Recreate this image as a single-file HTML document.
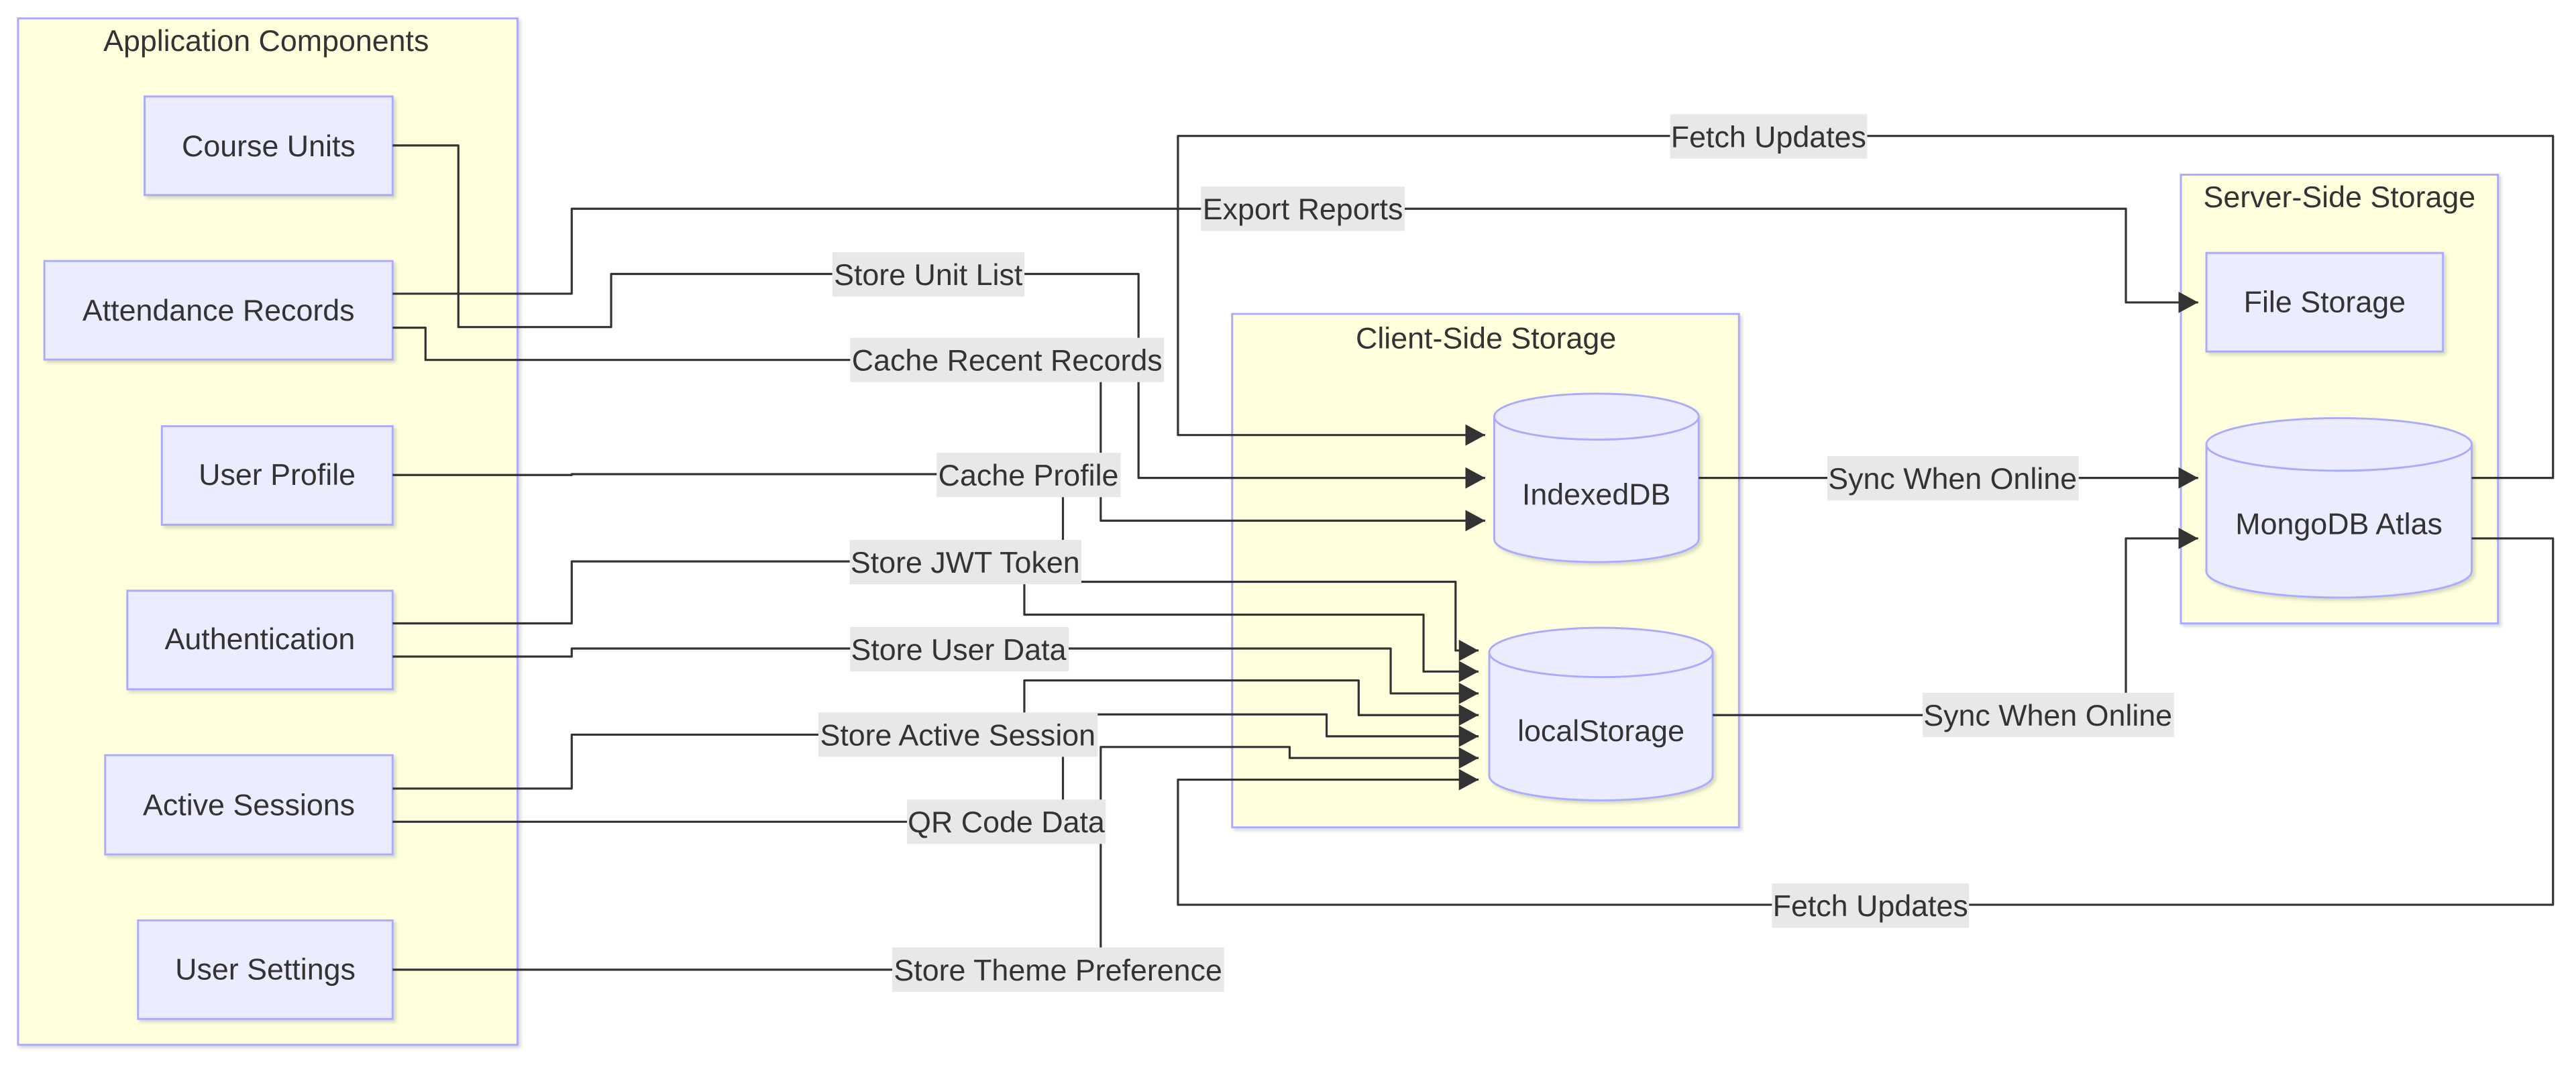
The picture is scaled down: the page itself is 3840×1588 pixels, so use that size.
<!DOCTYPE html>
<html><head><meta charset="utf-8"><style>
html,body{margin:0;padding:0;background:#fff;}
#wrap{position:relative;width:1568px;height:648px;transform:scale(2.449,2.4506);transform-origin:0 0;font-family:"Liberation Sans",Arial,sans-serif;color:#333;}
svg{position:absolute;left:0;top:0;}
.t{position:absolute;transform:translate(-50%,-50%);white-space:nowrap;font-size:18.3px;line-height:20px;}
.l{position:absolute;transform:translate(-50%,-50%);white-space:nowrap;font-size:18.3px;line-height:27px;background:#e8e8e8;padding:0 1px;}
</style></head><body><div id="wrap">
<svg width="1568" height="648" viewBox="0 0 1568 648">
<defs>
<marker id="a" markerUnits="userSpaceOnUse" markerWidth="13" markerHeight="14" refX="12" refY="6.5" orient="auto"><path d="M0,0 L12,6.5 L0,13 z" fill="#333"/></marker>
<filter id="sh" x="-10%" y="-10%" width="130%" height="130%"><feDropShadow dx="1.5" dy="1.5" stdDeviation="1" flood-color="#000" flood-opacity="0.15"/></filter>
</defs>
<g fill="#ffffde" stroke="#aaaaff" stroke-width="1.2" filter="url(#sh)">
<rect x="11" y="11.2" width="304" height="624.5"/>
<rect x="750" y="191" width="308.5" height="312.4"/>
<rect x="1327.5" y="106.3" width="193" height="273"/>
</g>
<g fill="#ececff" stroke="#aaaaff" stroke-width="1.2" filter="url(#sh)">
<rect x="88" y="58.7" width="151" height="60"/>
<rect x="27" y="158.8" width="212" height="60"/>
<rect x="98.5" y="259.3" width="140.5" height="60"/>
<rect x="77.5" y="359.4" width="161.5" height="60"/>
<rect x="64" y="459.5" width="175" height="60.4"/>
<rect x="84" y="560" width="155" height="60"/>
<rect x="1343" y="153.9" width="144" height="60"/>
<path d="M909.5,253.5 a62.25,14 0 0 0 124.5,0 a62.25,14 0 0 0 -124.5,0 l0,74.5 a62.25,14 0 0 0 124.5,0 l0,-74.5"/>
<path d="M906.5,397 a68,15 0 0 0 136,0 a68,15 0 0 0 -136,0 l0,75 a68,15 0 0 0 136,0 l0,-75"/>
<path d="M1343,270.4 a80.75,16 0 0 0 161.5,0 a80.75,16 0 0 0 -161.5,0 l0,77.2 a80.75,16 0 0 0 161.5,0 l0,-77.2"/>
</g>
<g fill="none" stroke="#333" stroke-width="1.3" stroke-linejoin="round" marker-end="url(#a)">
<path d="M239,88.5 H279 V199 H372 V166.7 H693 V290.8 H904"/>
<path d="M239,178.7 H348 V127 H1294 V184 H1338"/>
<path d="M239,199.4 H259 V219 H670 V316.8 H904"/>
<path d="M239,289 H348 V288.5 H647 V354 H886 V395.8 H900"/>
<path d="M239,379.3 H348 V341.6 H623.5 V374 H866.5 V408.6 H900"/>
<path d="M239,399.5 H348 V394.6 H846.5 V421.9 H900"/>
<path d="M239,479.8 H348 V447 H623.5 V414 H827 V435.1 H900"/>
<path d="M239,500 H647 V434.7 H807.5 V448 H900"/>
<path d="M239,590 H670 V454.5 H785 V461.2 H900"/>
<path d="M1504.5,327.6 H1554 V550.5 H717 V474.4 H900"/>
<path d="M1504.5,290.8 H1554 V82.7 H717 V264.7 H904"/>
<path d="M1034,290.8 H1338"/>
<path d="M1042.5,435.1 H1294 V327.6 H1338"/>
</g>
</svg>
<div class="t" style="left:162px;top:25px">Application Components</div>
<div class="t" style="left:904.5px;top:205.6px">Client-Side Storage</div>
<div class="t" style="left:1424px;top:120.4px">Server-Side Storage</div>
<div class="t" style="left:163.5px;top:88.7px">Course Units</div>
<div class="t" style="left:133px;top:188.8px">Attendance Records</div>
<div class="t" style="left:168.7px;top:289.3px">User Profile</div>
<div class="t" style="left:158.2px;top:389.4px">Authentication</div>
<div class="t" style="left:151.5px;top:489.7px">Active Sessions</div>
<div class="t" style="left:161.5px;top:590px">User Settings</div>
<div class="t" style="left:1415px;top:184px">File Storage</div>
<div class="t" style="left:971.7px;top:301px">IndexedDB</div>
<div class="t" style="left:974.5px;top:445px">localStorage</div>
<div class="t" style="left:1423.7px;top:319px">MongoDB Atlas</div>
<div class="l" style="left:565px;top:166.7px">Store Unit List</div>
<div class="l" style="left:793px;top:127px">Export Reports</div>
<div class="l" style="left:613px;top:219px">Cache Recent Records</div>
<div class="l" style="left:626px;top:289px">Cache Profile</div>
<div class="l" style="left:587.5px;top:341.6px">Store JWT Token</div>
<div class="l" style="left:583.5px;top:394.6px">Store User Data</div>
<div class="l" style="left:583px;top:447px">Store Active Session</div>
<div class="l" style="left:612.5px;top:500px">QR Code Data</div>
<div class="l" style="left:644px;top:590px">Store Theme Preference</div>
<div class="l" style="left:1076.5px;top:82.7px">Fetch Updates</div>
<div class="l" style="left:1138.5px;top:550.5px">Fetch Updates</div>
<div class="l" style="left:1188.5px;top:290.8px">Sync When Online</div>
<div class="l" style="left:1246.5px;top:435.1px">Sync When Online</div>
</div></body></html>
